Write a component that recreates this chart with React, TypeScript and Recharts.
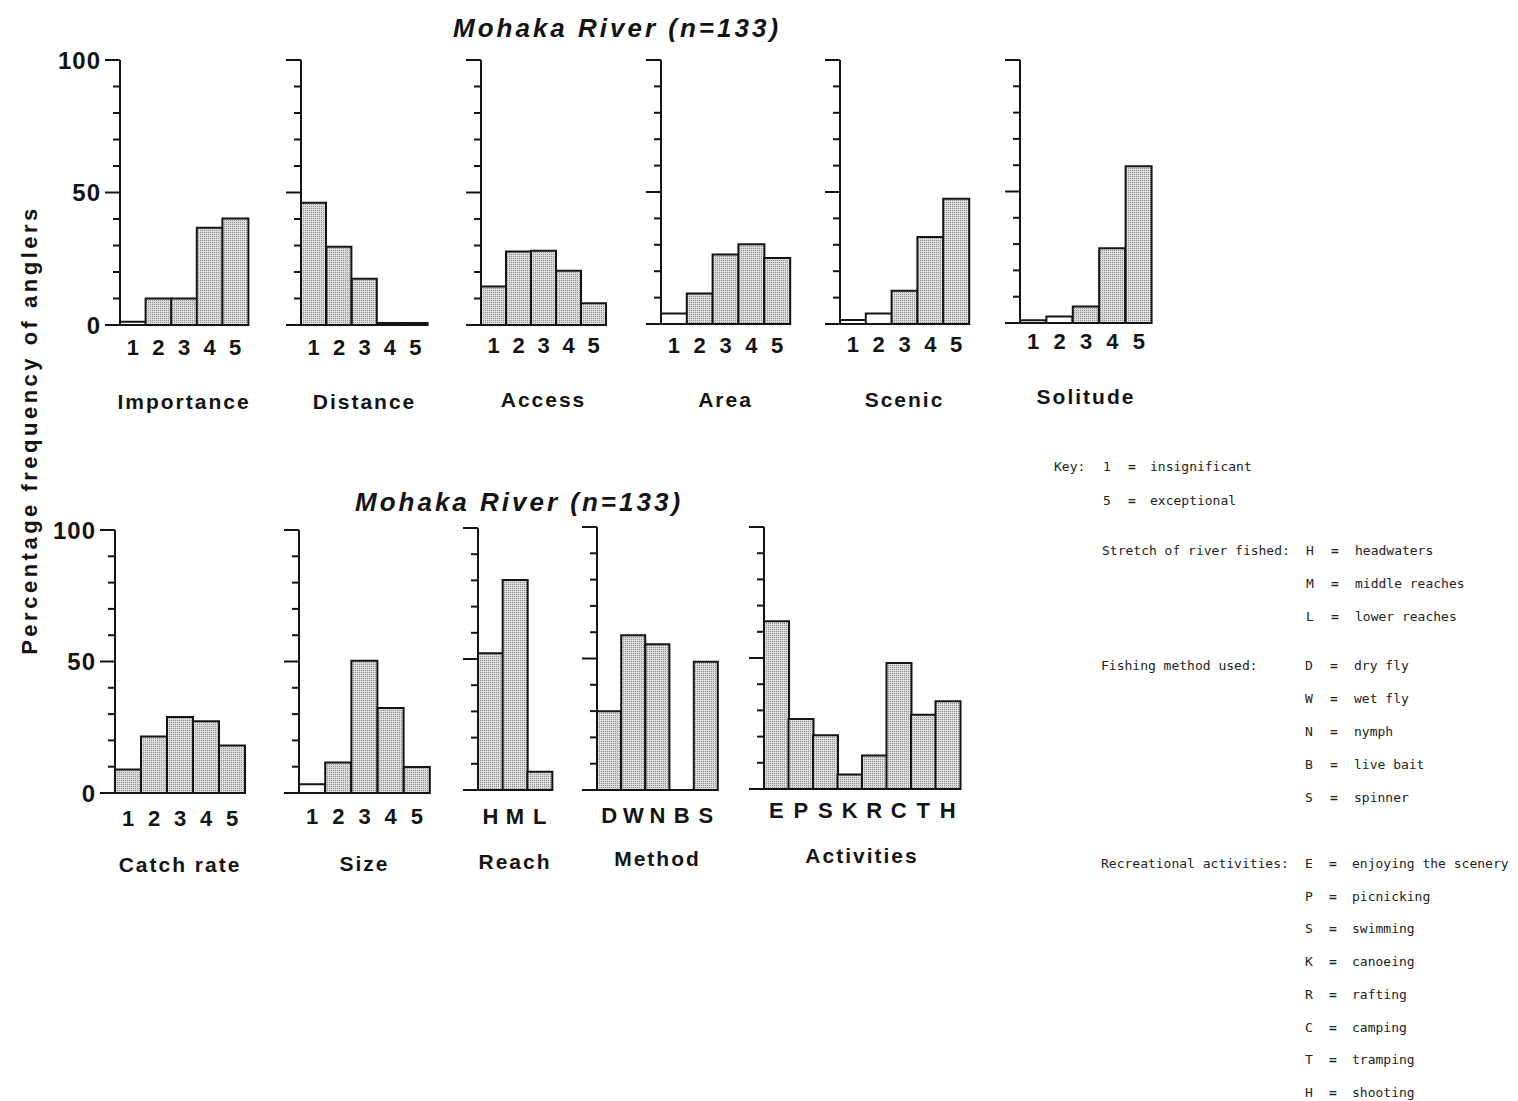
import React from 'react'
import { BarChart, Bar, XAxis, YAxis, Cell } from 'recharts'

// percentage of anglers
const ratingCats = ['1', '2', '3', '4', '5']
const reachCats = ['H', 'M', 'L']
const methodCats = ['D', 'W', 'N', 'B', 'S']
const activityCats = ['E', 'P', 'S', 'K', 'R', 'C', 'T', 'H']

const importance = [1.2, 10, 10, 36.7, 40.2]
const distance = [46.1, 29.5, 17.5, 0.8, 0.8]
const access = [14.5, 27.7, 28, 20.5, 8.2]
const area = [4, 11.6, 26.3, 30.2, 25]
const scenic = [1.5, 4, 12.6, 33, 47.4]
const solitude = [1, 2.5, 6.3, 28.4, 59.6]

const catchRate = [8.9, 21.5, 28.9, 27.3, 18.1]
const size = [3.3, 11.6, 50.3, 32.3, 9.9]
const reach = [52.2, 80.2, 7]
const method = [29.9, 58.8, 55.4, 0, 48.8]
const activities = [64, 26.7, 20.5, 5.5, 12.8, 48.1, 28.3, 33.5]

const yTicks = [0, 10, 20, 30, 40, 50, 60, 70, 80, 90, 100]

const keyScale = [['1', 'insignificant'], ['5', 'exceptional']]
const keyReach = [['H', 'headwaters'], ['M', 'middle reaches'], ['L', 'lower reaches']]
const keyMethod = [['D', 'dry fly'], ['W', 'wet fly'], ['N', 'nymph'], ['B', 'live bait'], ['S', 'spinner']]
const keyActivities = [
  ['E', 'enjoying the scenery'], ['P', 'picnicking'], ['S', 'swimming'], ['K', 'canoeing'],
  ['R', 'rafting'], ['C', 'camping'], ['T', 'tramping'], ['H', 'shooting'],
]

const INK = '#141414'
const SANS = '"Liberation Sans", Arial, sans-serif'
const MONO = '"DejaVu Sans Mono", "Liberation Mono", monospace'

type Panel = {
  title: string
  cats: string[]
  vals: number[]
  x: number
  top: number
  base: number
  w: number
  showY?: boolean
  tm: number
  lo: number
}

const panels: Panel[] = [
  { title: 'Importance', cats: ratingCats, vals: importance, x: 120, top: 60, base: 325, w: 128, showY: true, tm: 14, lo: 16 },
  { title: 'Distance', cats: ratingCats, vals: distance, x: 301, top: 60, base: 325, w: 127, tm: 14, lo: 16 },
  { title: 'Access', cats: ratingCats, vals: access, x: 481, top: 60, base: 325, w: 125, tm: 12, lo: 18 },
  { title: 'Area', cats: ratingCats, vals: area, x: 661, top: 60, base: 324, w: 129, tm: 13, lo: 17 },
  { title: 'Scenic', cats: ratingCats, vals: scenic, x: 840, top: 60, base: 324, w: 129, tm: 12, lo: 17 },
  { title: 'Solitude', cats: ratingCats, vals: solitude, x: 1020, top: 60, base: 323, w: 132, tm: 10, lo: 19 },
  { title: 'Catch rate', cats: ratingCats, vals: catchRate, x: 115, top: 530, base: 793, w: 130, showY: true, tm: 17, lo: 21 },
  { title: 'Size', cats: ratingCats, vals: size, x: 299, top: 530, base: 793, w: 131, tm: 15, lo: 22 },
  { title: 'Reach', cats: reachCats, vals: reach, x: 478, top: 528, base: 790, w: 74, tm: 18, lo: 21 },
  { title: 'Method', cats: methodCats, vals: method, x: 597, top: 527, base: 790, w: 121, tm: 17, lo: 24 },
  { title: 'Activities', cats: activityCats, vals: activities, x: 764, top: 527, base: 789, w: 196, tm: 13, lo: 26 },
]

function YTick(props: any) {
  const { x, y, payload, showLabel } = props
  const major = payload.value % 50 === 0
  const len = major ? 15 : 7
  return (
    <g>
      <line x1={x - len} x2={x} y1={y} y2={y} stroke={INK} strokeWidth={2} />
      {showLabel && major && (
        <text x={x - len - 4} y={y} dy="0.36em" textAnchor="end" fill={INK}
          style={{ fontFamily: SANS, fontSize: 24, fontWeight: 700, letterSpacing: 1 }}>
          {payload.value}
        </text>
      )}
    </g>
  )
}

const LEFT = 80
const TOP = 12
const XH = 100

function SmallChart({ p }: { p: Panel }) {
  const data = p.cats.map((c, i) => ({ cat: c, v: p.vals[i] }))
  const plotH = p.base - p.top
  return (
    <div style={{ position: 'absolute', left: p.x - LEFT, top: p.top - TOP }}>
      <BarChart width={LEFT + p.w + 14} height={TOP + plotH + XH} data={data}
        margin={{ top: TOP, right: 14, bottom: 0, left: 0 }} barCategoryGap={0}>
        <XAxis dataKey="cat" height={XH} interval={0} tickLine={false} tickSize={0} tickMargin={p.tm}
          axisLine={{ stroke: INK, strokeWidth: 2 }}
          tick={{ fill: INK, fontSize: 22, fontWeight: 700, fontFamily: SANS }}
          label={{ value: p.title, position: 'insideBottom', offset: p.lo, fill: INK,
            fontSize: 21, fontWeight: 700, fontFamily: SANS, letterSpacing: 2 }} />
        <YAxis domain={[0, 100]} ticks={yTicks} interval={0} width={LEFT} tickSize={0} tickMargin={0}
          tickLine={false} axisLine={{ stroke: INK, strokeWidth: 2 }}
          tick={<YTick showLabel={!!p.showY} />} />
        <Bar dataKey="v" isAnimationActive={false} stroke={INK} strokeWidth={2}>
          {data.map((d, i) => (
            <Cell key={i} fill={d.v < 5 ? '#ffffff' : 'url(#stipple)'} />
          ))}
        </Bar>
      </BarChart>
    </div>
  )
}

const titleStyle: React.CSSProperties = {
  position: 'absolute', fontFamily: SANS, fontSize: 26, fontWeight: 700, fontStyle: 'italic',
  letterSpacing: 3, color: INK, whiteSpace: 'nowrap', lineHeight: '30px',
}

const monoStyle: React.CSSProperties = {
  position: 'absolute', fontFamily: MONO, fontSize: 13, color: '#222', whiteSpace: 'nowrap', lineHeight: '16px',
}

function KeyRow({ y, code, desc, cx, ex, dx }: { y: number; code: string; desc: string; cx: number; ex: number; dx: number }) {
  return (
    <>
      <div style={{ ...monoStyle, left: cx, top: y - 8 }}>{code}</div>
      <div style={{ ...monoStyle, left: ex, top: y - 8, fontWeight: 700 }}>=</div>
      <div style={{ ...monoStyle, left: dx, top: y - 8 }}>{desc}</div>
    </>
  )
}

export default function App() {
  return (
    <div style={{ position: 'absolute', left: 0, top: 0, width: 1518, height: 1101, background: '#fff', overflow: 'hidden' }}>
      <svg width={0} height={0} style={{ position: 'absolute' }}>
        <defs>
          <pattern id="stipple" width={2} height={2} patternUnits="userSpaceOnUse">
            <rect width={2} height={2} fill="#dcdcdc" />
            <rect width={1} height={1} fill="#8e8e8e" />
          </pattern>
        </defs>
      </svg>

      <div style={{ ...titleStyle, left: 453, top: 13 }}>Mohaka River (n=133)</div>
      <div style={{ ...titleStyle, left: 355, top: 487 }}>Mohaka River (n=133)</div>

      <div style={{
        position: 'absolute', left: 30, top: 430, transform: 'translate(-50%, -50%) rotate(-90deg)',
        fontFamily: SANS, fontSize: 22, fontWeight: 700, letterSpacing: 3.5, color: INK, whiteSpace: 'nowrap',
      }}>Percentage frequency of anglers</div>

      {panels.map((p) => <SmallChart key={p.title} p={p} />)}

      <div style={{ ...monoStyle, left: 1054, top: 467 - 8 }}>Key:</div>
      {keyScale.map(([c, d], i) => (
        <KeyRow key={c} y={467 + i * 34} code={c} desc={d} cx={1103} ex={1128} dx={1150} />
      ))}

      <div style={{ ...monoStyle, left: 1102, top: 551 - 8 }}>Stretch of river fished:</div>
      {keyReach.map(([c, d], i) => (
        <KeyRow key={c} y={551 + i * 33} code={c} desc={d} cx={1306} ex={1331} dx={1355} />
      ))}

      <div style={{ ...monoStyle, left: 1101, top: 666 - 8 }}>Fishing method used:</div>
      {keyMethod.map(([c, d], i) => (
        <KeyRow key={c} y={666 + i * 33} code={c} desc={d} cx={1305} ex={1330} dx={1354} />
      ))}

      <div style={{ ...monoStyle, left: 1101, top: 864 - 8 }}>Recreational activities:</div>
      {keyActivities.map(([c, d], i) => (
        <KeyRow key={c + i} y={864 + i * 32.7} code={c} desc={d} cx={1305} ex={1329} dx={1352} />
      ))}
    </div>
  )
}
